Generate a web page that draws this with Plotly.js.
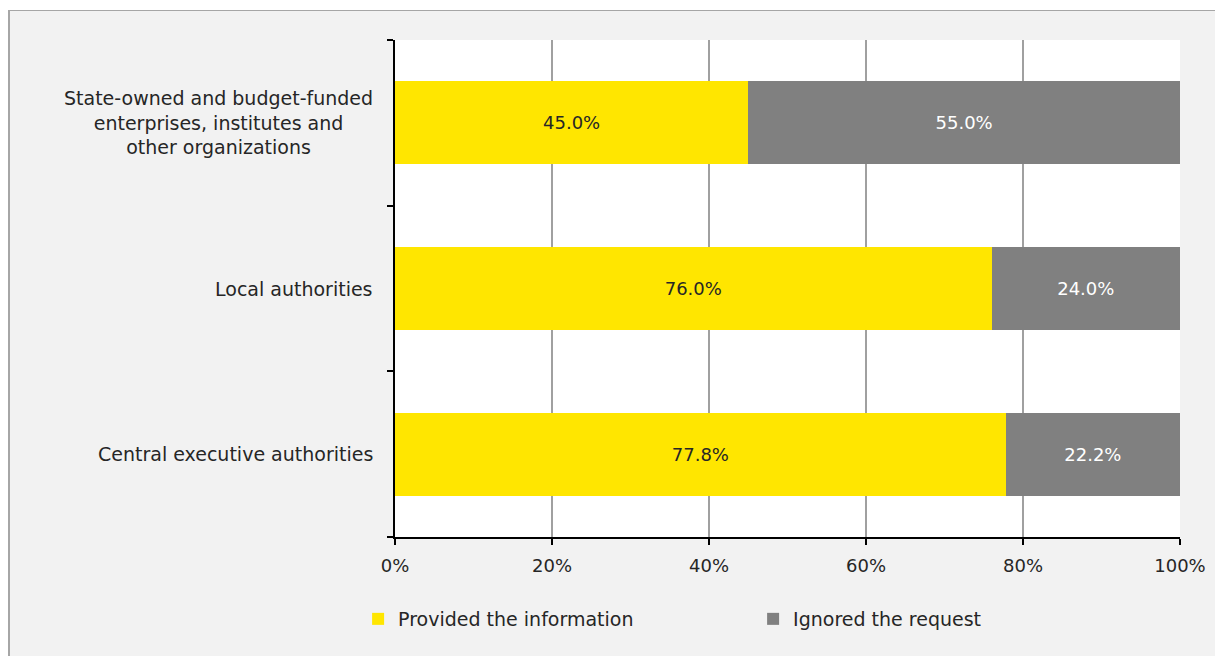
<!DOCTYPE html>
<html>
<head>
<meta charset="utf-8">
<script src="https://cdn.plot.ly/plotly-3.0.1.min.js"></script>
<style>
  html, body { margin: 0; padding: 0; background: #ffffff; width: 1215px; height: 656px; overflow: hidden; }
  #frame { position: absolute; left: 8px; top: 10px; width: 1207px; height: 646px;
           border-left: 2px solid #a6a6a6; border-top: 1px solid #a6a6a6; background: #f2f2f2; }
  #chart { width: 1205px; height: 645px; }
</style>
</head>
<body>
<div id="frame"><div id="chart"></div></div>
<script>
// Categories (bottom to top)
const categories = [
  'Central executive authorities',
  'Local authorities',
  'State-owned and budget-funded<br>enterprises, institutes and<br>other organizations'
];
const providedValues = [77.8, 76.0, 45.0];
const ignoredValues  = [22.2, 24.0, 55.0];
const seriesNames = ['Provided the information', 'Ignored the request'];
const xTickValues = [0, 20, 40, 60, 80, 100];
const xTickLabels = ['0%', '20%', '40%', '60%', '80%', '100%'];

const FONT = 'DejaVu Sans, Noto Sans, sans-serif';
const FS = 18;
const FS_TEXT = 19;

const traces = [
  {
    type: 'bar', orientation: 'h', name: seriesNames[0],
    x: providedValues, y: categories,
    marker: { color: '#FFE600' },
    texttemplate: '%{x:.1f}%', textposition: 'inside', insidetextanchor: 'middle',
    textfont: { family: FONT, size: FS, color: '#262626' },
    hoverinfo: 'x+y'
  },
  {
    type: 'bar', orientation: 'h', name: seriesNames[1],
    x: ignoredValues, y: categories,
    marker: { color: '#808080' },
    texttemplate: '%{x:.1f}%', textposition: 'inside', insidetextanchor: 'middle',
    textfont: { family: FONT, size: FS, color: '#ffffff' },
    hoverinfo: 'x+y'
  }
];

const annotations = categories.map(c => ({
  xref: 'paper', yref: 'y', x: 0, y: c, xanchor: 'right', yanchor: 'middle',
  xshift: -20, text: c, showarrow: false, align: 'center',
  font: { family: FONT, size: FS_TEXT, color: '#262626' }
}));

const layout = {
  width: 1205, height: 645,
  margin: { l: 385, r: 35, t: 29, b: 119, pad: 0 },
  paper_bgcolor: '#f2f2f2', plot_bgcolor: '#ffffff',
  barmode: 'stack', bargap: 0.5,
  font: { family: FONT, size: FS, color: '#262626' },
  xaxis: {
    range: [0, 100], tickvals: xTickValues, ticktext: xTickLabels,
    showgrid: true, gridcolor: '#a0a0a0', gridwidth: 1.5,
    showline: true, linecolor: '#000000', linewidth: 2,
    ticks: 'outside', ticklen: 6, tickcolor: '#000000', tickwidth: 2,
    ticklabelstandoff: 5,
    zeroline: false, fixedrange: true,
    tickfont: { family: FONT, size: FS, color: '#262626' }
  },
  yaxis: {
    type: 'category', categoryorder: 'array', categoryarray: categories,
    showticklabels: false, showgrid: false, zeroline: false,
    showline: true, linecolor: '#000000', linewidth: 2,
    ticks: 'outside', tickson: 'boundaries', ticklen: 6, tickcolor: '#000000', tickwidth: 2,
    fixedrange: true
  },
  showlegend: true,
  legend: {
    orientation: 'h', x: -0.047, xanchor: 'left', y: -0.165, yanchor: 'middle',
    bgcolor: 'rgba(0,0,0,0)', traceorder: 'normal',
    entrywidth: 350, entrywidthmode: 'pixels', itemwidth: 30,
    font: { family: FONT, size: FS_TEXT, color: '#262626' }
  },
  annotations: annotations
};

Plotly.newPlot('chart', traces, layout, { displayModeBar: false, staticPlot: true });
</script>
</body>
</html>
